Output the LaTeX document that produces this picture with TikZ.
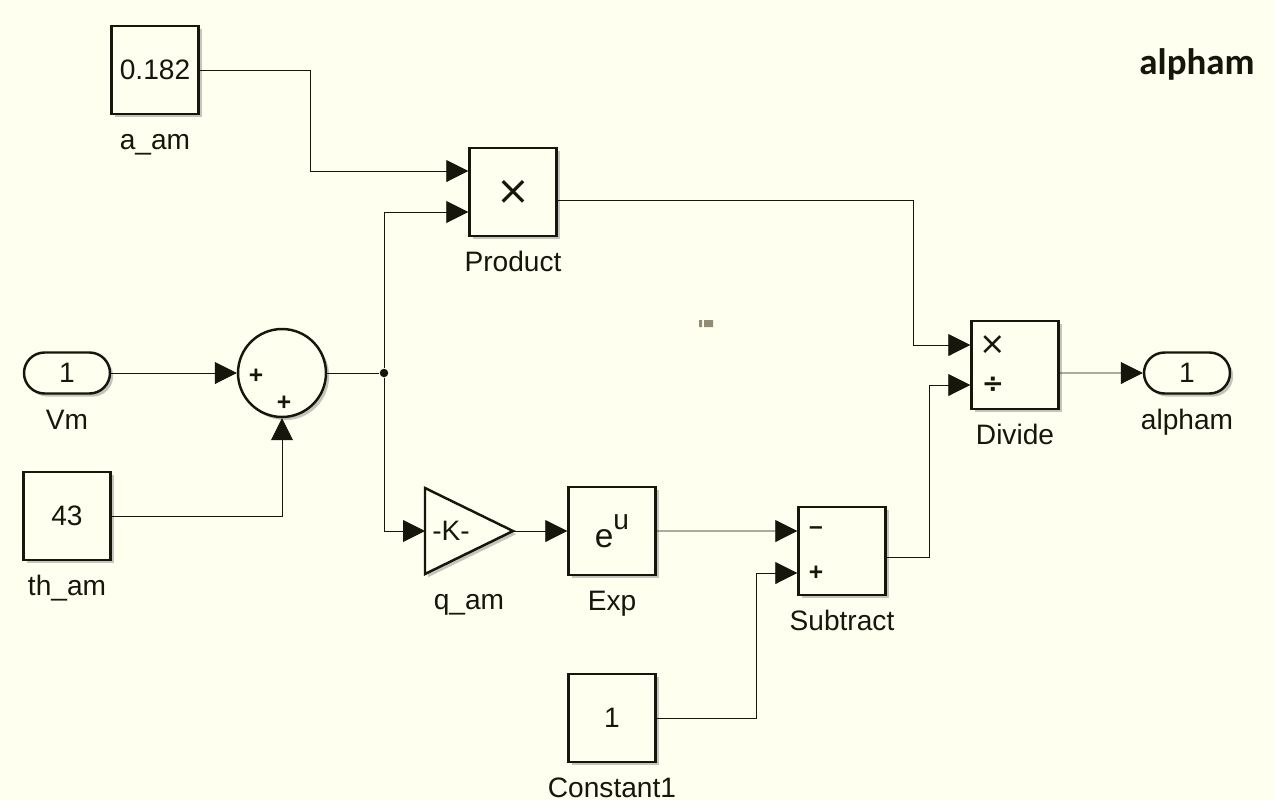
\documentclass[tikz,border=0pt]{standalone}
\usepackage{fontspec}
\setmainfont{Liberation Sans}
\newfontfamily\titlefont{Carlito}
\newfontfamily\symfont{DejaVu Sans}
\usetikzlibrary{arrows.meta,shadows,positioning}
\definecolor{canvas}{RGB}{255,255,240}
\definecolor{ink}{RGB}{22,22,12}

\begin{document}
\begin{tikzpicture}[x=0.02cm,y=-0.02cm, node distance=0.28cm,
    every node/.style={font=\fontsize{16}{19}\selectfont, text=ink},
    blk/.style={draw=ink, line width=1.4pt, fill=canvas, minimum width=1.74cm,
      minimum height=1.76cm, inner sep=0pt,
      drop shadow={shadow xshift=1.8pt, shadow yshift=-1.8pt, opacity=0.45}},
    port/.style={blk, minimum width=1.72cm, minimum height=0.82cm, rounded corners=0.41cm},
    sumblk/.style={blk, circle, minimum size=1.76cm},
    lbl/.style={text height=11.5pt, text depth=3.5pt, inner sep=0pt},
    dot/.style={circle, fill=ink, inner sep=0pt, minimum size=0.17cm},
    sgn/.style={font=\bfseries\fontsize{14}{14}\selectfont, inner sep=0pt},
    wire/.style={draw=ink, line width=0.5pt},
    sig/.style={wire, -{Triangle[length=0.44cm,width=0.44cm]}}]
  \fill[canvas] (0,0) rectangle (1274,800);

  % sources
  \node[blk] (aam) at (155,70) {0.182};
  \node[lbl, below=of aam] (aamlbl) {a\_am};
  \node[port] (vm) at (67,373) {1};
  \node[lbl, below=of vm] (vmlbl) {Vm};
  \node[blk] (tham) at (67,516) {43};
  \node[lbl, below=of tham] (thamlbl) {th\_am};
  \node[blk] (const) at (612,718) {1};
  \node[lbl, below=of const] (constlbl) {Constant1};

  % sum
  \node[sumblk] (sum) at (282,373) {};
  \node[sgn] (sumA) at (256,376) {+};
  \node[sgn] (sumB) at (284,403) {+};
  \node[dot] (jn) at (384,373) {};

  % product
  \node[blk] (prod) at (513,192) {\symfont\fontsize{23}{23}\selectfont ×};
  \node[lbl, below=of prod] (prodlbl) {Product};

  % gain
  \coordinate (qin) at (425,531);
  \coordinate (qout) at (513,531);
  \coordinate (qbot) at (469,575);
  \draw[ink, line width=1.4pt, fill=canvas,
    drop shadow={shadow xshift=1.8pt, shadow yshift=-1.8pt, opacity=0.45}]
    (425,488) -- (qout) -- (425,574) -- cycle;
  \node (gain) at (451,531) {-K-};
  \node[lbl, below=of qbot] (qlbl) {q\_am};

  % exp
  \node[blk] (exp) at (612,531)
    {\fontsize{19}{19}\selectfont e\raisebox{0.55em}{\fontsize{16}{16}\selectfont u}};
  \node[lbl, below=of exp] (explbl) {Exp};

  % subtract
  \node[blk] (sub) at (842,551) {};
  \node[lbl, below=of sub] (sublbl) {Subtract};
  \node[sgn] (subA) at (816,531) {–};
  \node[sgn] (subB) at (816,573) {+};

  % divide
  \node[blk] (div) at (1015,365) {};
  \node[lbl, below=of div] (divlbl) {Divide};
  \node (divA) at (993,345) {\symfont\fontsize{18}{18}\selectfont ×};
  \node (divB) at (993,385) {\symfont\bfseries\fontsize{15}{15}\selectfont ÷};

  % output
  \node[port] (out) at (1187,373) {1};
  \node[lbl, below=of out] (outlbl) {alpham};
  \node[font=\titlefont\bfseries\fontsize{21}{24}\selectfont] (title) at (1197,64) {alpham};

  % signals
  \draw[sig] (aam.east) -| ([xshift=-3.16cm, yshift=0.42cm]prod.west) -- ([yshift=0.42cm]prod.west);
  \draw[sig] (vm) -- (sum);
  \draw[sig] (tham.east) -| (sum.south);
  \draw[wire] (sum) -- (jn);
  \draw[sig] (jn) |- ([yshift=-0.4cm]prod.west);
  \draw[sig] (jn) |- (qin);
  \draw[sig] (qout) -- (exp.west);
  \draw[sig] (exp.east) -- ([yshift=0.4cm]sub.west);
  \draw[sig] (const.east) -| ([xshift=-0.82cm, yshift=-0.44cm]sub.west) -- ([yshift=-0.44cm]sub.west);
  \draw[sig] ([yshift=-0.16cm]prod.east) -| ([xshift=-1.14cm, yshift=0.4cm]div.west) -- ([yshift=0.4cm]div.west);
  \draw[sig] ([yshift=-0.12cm]sub.east) -| ([xshift=-0.82cm, yshift=-0.4cm]div.west) -- ([yshift=-0.4cm]div.west);
  \draw[sig] ([yshift=-0.16cm]div.east) -- (out.west);

  % stray marker
  \fill[gray!80!olive] (699,320) rectangle (702,327) (704,320) rectangle (713,327);
\end{tikzpicture}
\end{document}
